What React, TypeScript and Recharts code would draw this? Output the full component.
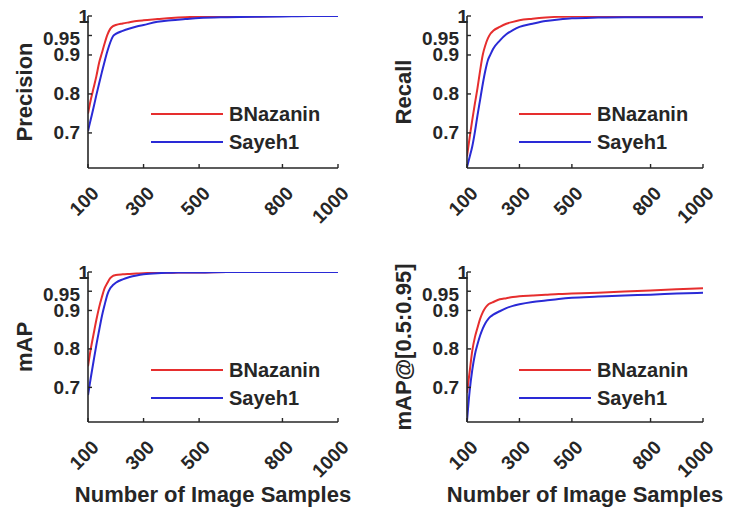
import React from "react";
import { LineChart, Line, XAxis, YAxis, Legend } from "recharts";

// ---- data ----
const samples = [100, 110, 120, 130, 140, 150, 160, 170, 180, 190, 200, 225, 250, 275, 300, 350, 400, 450, 500, 600, 700, 800, 900, 1000];

const precisionBNazanin = [0.75, 0.785, 0.815, 0.845, 0.88, 0.905, 0.93, 0.952, 0.967, 0.974, 0.977, 0.981, 0.984, 0.987, 0.989, 0.992, 0.995, 0.997, 0.998, 0.999, 0.999, 1.0, 1.0, 1.0];
const precisionSayeh1 = [0.705, 0.735, 0.765, 0.797, 0.827, 0.856, 0.884, 0.91, 0.932, 0.948, 0.954, 0.962, 0.968, 0.973, 0.977, 0.985, 0.989, 0.992, 0.995, 0.997, 0.998, 0.999, 1.0, 1.0];

const recallBNazanin = [0.64, 0.688, 0.733, 0.775, 0.815, 0.86, 0.9, 0.925, 0.943, 0.955, 0.962, 0.972, 0.98, 0.985, 0.989, 0.993, 0.996, 0.998, 0.999, 1.0, 1.0, 1.0, 1.0, 1.0];
const recallSayeh1 = [0.612, 0.638, 0.665, 0.702, 0.745, 0.785, 0.825, 0.86, 0.887, 0.902, 0.916, 0.937, 0.953, 0.964, 0.972, 0.98, 0.987, 0.991, 0.994, 0.996, 0.997, 0.997, 0.997, 0.997];

const mapBNazanin = [0.755, 0.8, 0.838, 0.875, 0.908, 0.935, 0.958, 0.972, 0.984, 0.99, 0.992, 0.994, 0.995, 0.996, 0.997, 0.998, 0.998, 0.999, 0.999, 1.0, 1.0, 1.0, 1.0, 1.0];
const mapSayeh1 = [0.68, 0.725, 0.768, 0.81, 0.848, 0.885, 0.915, 0.942, 0.958, 0.966, 0.972, 0.981, 0.987, 0.991, 0.994, 0.997, 0.998, 0.999, 0.999, 1.0, 1.0, 1.0, 1.0, 1.0];

const map5095BNazanin = [0.686, 0.74, 0.795, 0.83, 0.855, 0.878, 0.895, 0.907, 0.915, 0.919, 0.922, 0.929, 0.932, 0.935, 0.937, 0.939, 0.941, 0.943, 0.944, 0.946, 0.949, 0.952, 0.955, 0.958];
const map5095Sayeh1 = [0.612, 0.69, 0.745, 0.785, 0.812, 0.835, 0.853, 0.867, 0.877, 0.884, 0.889, 0.898, 0.906, 0.912, 0.916, 0.922, 0.926, 0.93, 0.933, 0.936, 0.939, 0.941, 0.944, 0.946];

const seriesNames = ["BNazanin", "Sayeh1"];
const xTicks = [100, 300, 500, 800, 1000];
const xTickLabels = ["100", "300", "500", "800", "1000"];
const yTicks = [0.7, 0.8, 0.9, 0.95, 1];
const yTickLabels = ["0.7", "0.8", "0.9", "0.95", "1"];
const xTitle = "Number of Image Samples";

// ---- styling ----
const FONT = "'Liberation Sans', Arial, Helvetica, sans-serif";
const INK = "#262626";
const RED = "#e62e2e";
const BLUE = "#2a2ad6";

const buildRows = (a: number[], b: number[]) =>
  samples.map((x, i) => ({ x, a: a[i], b: b[i] }));

const YTick = (props: any) => {
  const { x, y, payload } = props;
  const v = payload.value;
  const idx = yTicks.indexOf(v);
  const label = idx >= 0 ? yTickLabels[idx] : String(v);
  const dx = v === 1 ? 1 : -8;
  const dy = v === 0.95 ? 3 : 0;
  return (
    <g>
      <line x1={x} x2={x + 4} y1={y} y2={y} stroke={INK} strokeWidth={1.4} />
      <text x={x + dx} y={y + dy} textAnchor="end" dominantBaseline="central" fontFamily={FONT} fontWeight="bold" fontSize={19} fill={INK}>
        {label}
      </text>
    </g>
  );
};

const XTick = (props: any) => {
  const { x, y, payload } = props;
  const idx = xTicks.indexOf(payload.value);
  const label = idx >= 0 ? xTickLabels[idx] : String(payload.value);
  const ax = x + 12;
  const ay = y + 26.5;
  return (
    <g>
      <line x1={x} x2={x} y1={y} y2={y - 4} stroke={INK} strokeWidth={1.4} />
      <text x={ax} y={ay} textAnchor="end" transform={`rotate(-45 ${ax} ${ay})`} fontFamily={FONT} fontWeight="bold" fontSize={19} fill={INK}>
        {label}
      </text>
    </g>
  );
};

const renderLegend = (props: any) => {
  const { payload } = props;
  return (
    <svg width={200} height={60} style={{ display: "block", overflow: "visible" }}>
      {(payload || []).map((p: any, i: number) => {
        const yy = 14 + i * 28;
        return (
          <g key={i}>
            <line x1={0} x2={72} y1={yy} y2={yy} stroke={p.color} strokeWidth={2.2} />
            <text x={78} y={yy} dominantBaseline="central" fontFamily={FONT} fontWeight="bold" fontSize={20} fill={INK}>
              {p.value}
            </text>
          </g>
        );
      })}
    </svg>
  );
};

type PanelProps = {
  left: number;
  top: number;
  width: number;
  height: number;
  plotLeft: number;
  plotRight: number;
  plotTop: number;
  plotBottom: number;
  rows: { x: number; a: number; b: number }[];
  yTitle: string;
  showXTitle: boolean;
  legendLeft: number;
  legendTop: number;
};

function Panel(p: PanelProps) {
  const yLabelX = p.plotLeft - 64;
  const yLabelY = (p.plotTop + p.plotBottom) / 2;
  const xLabelX = (p.plotLeft + p.plotRight) / 2;
  const xLabelY = p.plotBottom + 80;
  return (
    <div style={{ position: "absolute", left: p.left, top: p.top, width: p.width, height: p.height }}>
      <LineChart
        width={p.width}
        height={p.height}
        data={p.rows}
        margin={{ top: p.plotTop, right: p.width - p.plotRight, left: 0, bottom: 0 }}
      >
        <XAxis
          dataKey="x"
          type="number"
          domain={[100, 1000]}
          ticks={xTicks}
          allowDataOverflow
          height={p.height - p.plotBottom}
          tickSize={0}
          tickMargin={0}
          tickLine={false}
          tick={<XTick />}
          axisLine={{ stroke: INK, strokeWidth: 1.6 }}
          interval={0}
          label={
            p.showXTitle
              ? {
                  content: () => (
                    <text x={xLabelX} y={xLabelY} textAnchor="middle" fontFamily={FONT} fontWeight="bold" fontSize={22} fill={INK}>
                      {xTitle}
                    </text>
                  ),
                }
              : undefined
          }
        />
        <YAxis
          type="number"
          domain={[0.61, 1]}
          ticks={yTicks}
          allowDataOverflow
          width={p.plotLeft}
          tickSize={0}
          tickMargin={0}
          tickLine={false}
          tick={<YTick />}
          axisLine={{ stroke: INK, strokeWidth: 1.6 }}
          interval={0}
          label={{
            content: () => (
              <text
                x={yLabelX}
                y={yLabelY}
                textAnchor="middle"
                dominantBaseline="central"
                transform={`rotate(-90 ${yLabelX} ${yLabelY})`}
                fontFamily={FONT}
                fontWeight="bold"
                fontSize={22}
                fill={INK}
              >
                {p.yTitle}
              </text>
            ),
          }}
        />
        <Legend
          layout="vertical"
          align="center"
          verticalAlign="middle"
          content={renderLegend}
          wrapperStyle={{ left: p.legendLeft, top: p.legendTop, width: 200, height: 60 }}
        />
        <Line type="monotone" dataKey="a" name={seriesNames[0]} stroke={RED} strokeWidth={2} dot={false} isAnimationActive={false} />
        <Line type="monotone" dataKey="b" name={seriesNames[1]} stroke={BLUE} strokeWidth={2} dot={false} isAnimationActive={false} />
      </LineChart>
    </div>
  );
}

export default function App() {
  return (
    <div style={{ position: "absolute", left: 0, top: 0, width: 731, height: 515, background: "#fff", overflow: "hidden" }}>
      <Panel
        left={0} top={0} width={360} height={250}
        plotLeft={88} plotRight={338} plotTop={16} plotBottom={168}
        rows={buildRows(precisionBNazanin, precisionSayeh1)}
        yTitle="Precision" showXTitle={false}
        legendLeft={151} legendTop={100}
      />
      <Panel
        left={360} top={0} width={371} height={250}
        plotLeft={107} plotRight={343} plotTop={16} plotBottom={168}
        rows={buildRows(recallBNazanin, recallSayeh1)}
        yTitle="Recall" showXTitle={false}
        legendLeft={159} legendTop={100}
      />
      <Panel
        left={0} top={250} width={360} height={265}
        plotLeft={88} plotRight={338} plotTop={22} plotBottom={172}
        rows={buildRows(mapBNazanin, mapSayeh1)}
        yTitle="mAP" showXTitle={true}
        legendLeft={151} legendTop={106}
      />
      <Panel
        left={360} top={250} width={371} height={265}
        plotLeft={107} plotRight={343} plotTop={22} plotBottom={172}
        rows={buildRows(map5095BNazanin, map5095Sayeh1)}
        yTitle="mAP@[0.5:0.95]" showXTitle={true}
        legendLeft={159} legendTop={106}
      />
    </div>
  );
}
